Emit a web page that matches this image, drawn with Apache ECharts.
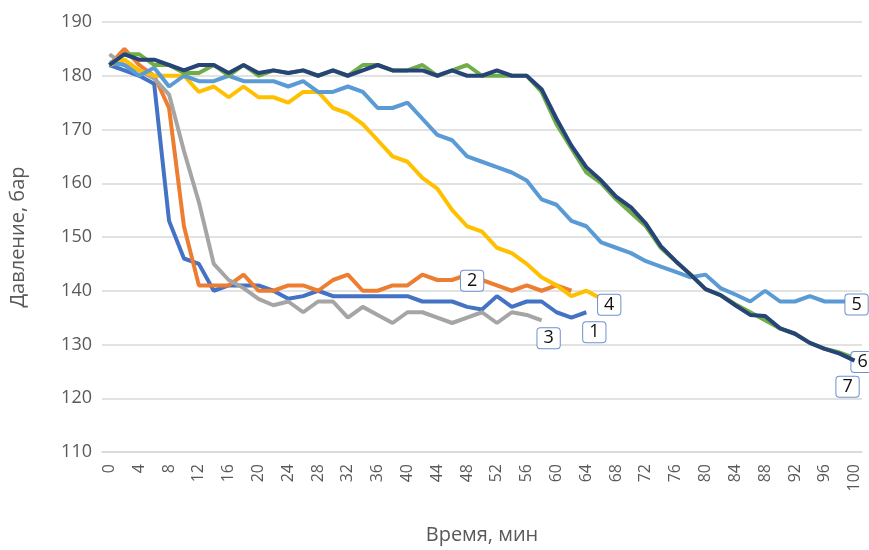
<!DOCTYPE html>
<html>
<head>
<meta charset="utf-8">
<script src="https://cdn.jsdelivr.net/npm/echarts@6/dist/echarts.min.js"></script>
<style>
html,body{margin:0;padding:0;background:#fff;}
#chart{width:869px;height:550px;}
</style>
</head>
<body>
<div id="chart"></div>
<script>
// Time, minutes
var categories = ['0','2','4','6','8','10','12','14','16','18','20','22','24','26','28','30','32','34','36','38','40','42','44','46','48','50','52','54','56','58','60','62','64','66','68','70','72','74','76','78','80','82','84','86','88','90','92','94','96','98','100'];

// Pressure, bar
var series1 = [182,181,180,178.5,153,146,145,140,141,141,141,140,138.5,139,140,139,139,139,139,139,139,138,138,138,137,136.5,139,137,138,138,136,135,136];
var series2 = [182,185,182,180,174,152,141,141,141,143,140,140,141,141,140,142,143,140,140,141,141,143,142,142,143,142,141,140,141,140,141,140];
var series3 = [184,182,181,179.5,176.5,166,156.5,145,142,140.5,138.5,137.3,138,136,138,138,135,137,135.5,134,136,136,135,134,135,136,134,136,135.5,134.5];
var series4 = [182,183,181,180,180,180,177,178,176,178,176,176,175,177,177,174,173,171,168,165,164,161,159,155,152,151,148,147,145,142.5,141,139,140,138.5];
var series5 = [182.5,182,180,181.5,178,180,179,179,180,179,179,179,178,179,177,177,178,177,174,174,175,172,169,168,165,164,163,162,160.5,157,156,153,152,149,148,147,145.5,144.5,143.5,142.5,143,140.5,139.3,138,140,138,138,139,138,138,138];
var series6 = [182,184,184,182,182,180.5,180.5,182,180,182,180,181,180.5,181,180,181,180,182,182,181,181,182,180,181,182,180,180,180,180,177,171,166.5,162,160,157,154.5,152,148,145.5,143,140.3,139.2,137.5,136,134.5,133,132,130.3,129.2,128.5,127.5];
var series7 = [182,184,183,183,182,181,182,182,180.5,182,180.5,181,180.5,181,180,181,180,181,182,181,181,181,180,181,180,180,181,180,180,177.5,172,167,163,160.5,157.5,155.5,152.5,148.3,145.5,143,140.3,139.2,137.3,135.5,135.3,133,132,130.3,129.2,128.3,127];

var seriesNames = ['1','2','3','4','5','6','7'];
var yTicks = [110,120,130,140,150,160,170,180,190];

var colors = ['#4472C4','#ED7D31','#A5A5A5','#FFC000','#5B9BD5','#70AD47','#264478'];
var allData = [series1,series2,series3,series4,series5,series6,series7];
// which point carries the number box, and box-centre offset from that point
var labelAt = [
  {idx: series1.length-1, off:[8,10]},
  {idx: 24, off:[5,-4]},
  {idx: series3.length-1, off:[7,8]},
  {idx: series4.length-1, off:[8,-4]},
  {idx: series5.length-1, off:[2,-7]},
  {idx: series6.length-1, off:[8,-6]},
  {idx: series7.length-1, off:[-7,16]}
];

var boxLabel = {
  show:true, color:'#111', fontSize:18, lineHeight:19,
  fontFamily:'Open Sans, sans-serif',
  backgroundColor:'#fff', borderColor:'#6E8FD0', borderWidth:1, borderRadius:3,
  padding:[1,6,0,6], align:'center', verticalAlign:'middle'
};

var SYM = 2, VFIX = 10;
var series = allData.map(function(arr, s){
  var la = labelAt[s];
  return {
    name: seriesNames[s],
    type:'line',
    data: arr.map(function(v,i){
      if(i===la.idx){
        var lb = Object.assign({}, boxLabel, {
          formatter: seriesNames[s],
          position: [SYM/2 + la.off[0], SYM/2 + la.off[1] + VFIX]
        });
        return {value:v, symbolSize:SYM, label: lb};
      }
      return v;
    }),
    showSymbol:true, symbol:'circle', symbolSize:0,
    itemStyle:{color:'rgba(0,0,0,0)', borderWidth:0},
    lineStyle:{color:colors[s], width:4},
    label:{show:false},
    labelLayout:{hideOverlap:false},
    animation:false,
    z: 2 + s
  };
});

var chart = echarts.init(document.getElementById('chart'), null, {renderer:'canvas'});
chart.setOption({
  animation:false,
  backgroundColor:'#fff',
  grid:{left:97, right:7, top:22, bottom:86, containLabel:false},
  xAxis:{
    type:'category', data:categories, boundaryGap:true,
    name:'Время, мин', nameLocation:'middle', nameGap:73,
    nameTextStyle:{fontSize:20, color:'#595959', fontFamily:'Open Sans, sans-serif'},
    axisLine:{show:true, lineStyle:{color:'#D9D9D9', width:1.5}},
    axisTick:{show:false},
    axisLabel:{interval:1, rotate:90, margin:12, fontSize:16, color:'#595959', fontFamily:'Open Sans, sans-serif'},
    splitLine:{show:false}
  },
  yAxis:{
    type:'value', min:yTicks[0], max:yTicks[yTicks.length-1], interval:10,
    name:'Давление, бар', nameLocation:'middle', nameGap:74,
    nameTextStyle:{fontSize:20, color:'#595959', fontFamily:'Open Sans, sans-serif'},
    axisLine:{show:false}, axisTick:{show:false},
    axisLabel:{margin:10, fontSize:18, color:'#595959', fontFamily:'Open Sans, sans-serif'},
    splitLine:{show:true, lineStyle:{color:'#D9D9D9', width:1.5}}
  },
  series: series
});
</script>
</body>
</html>
